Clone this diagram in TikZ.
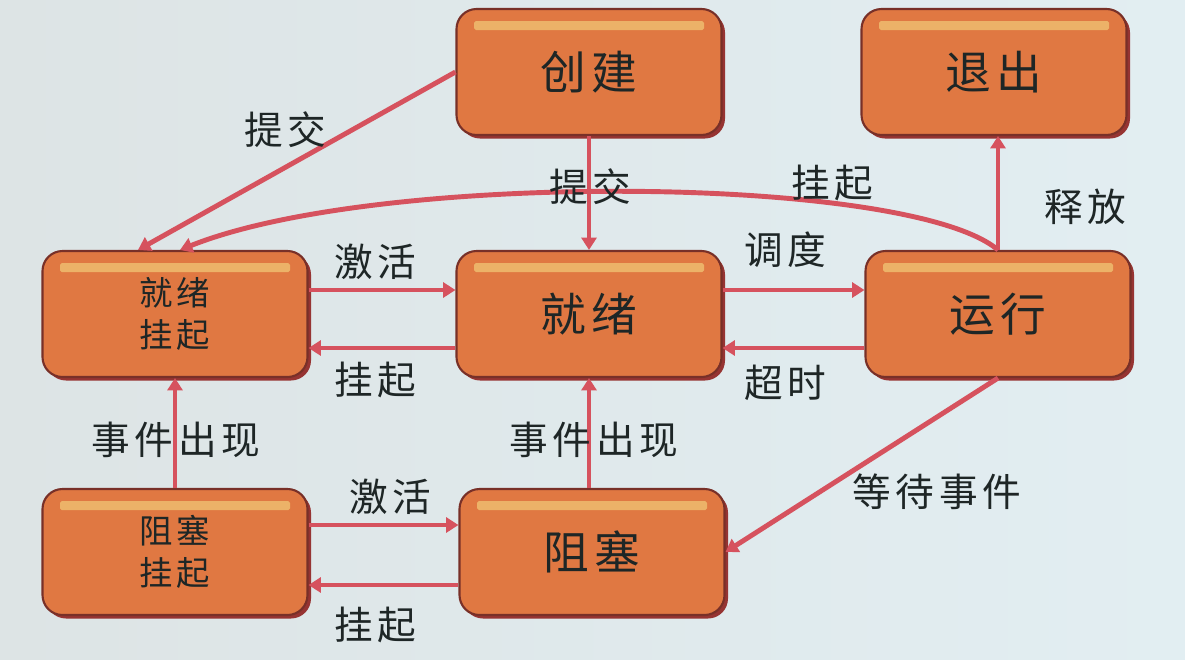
\documentclass[tikz,border=0pt]{standalone}
\usepackage{fontspec}
\usepackage{xcolor}
\usepackage{tikz}
\usetikzlibrary{positioning, arrows.meta, shadows, calc}

\newfontfamily\cjk[LetterSpace=12]{Noto Sans CJK SC}

\definecolor{bgleft}{RGB}{221,228,229}
\definecolor{bgright}{RGB}{226,238,242}
\definecolor{boxfill}{RGB}{224,120,66}
\definecolor{boxline}{RGB}{120,48,40}
\definecolor{boxshade}{RGB}{150,52,50}
\definecolor{hilite}{RGB}{236,178,104}
\definecolor{arrcol}{RGB}{214,82,94}
\definecolor{txt}{RGB}{30,38,38}

\begin{document}
\begin{tikzpicture}[
  state/.style={rectangle, rounded corners=0.4cm, draw=boxline, line width=1.2pt, fill=boxfill,
    minimum width=5.3cm, minimum height=2.52cm, inner sep=0pt, text=txt,
    font=\cjk\fontsize{26}{30}\selectfont,
    drop shadow={shadow xshift=0.07cm, shadow yshift=-0.07cm, fill=boxshade, opacity=1},
    path picture={\fill[hilite, rounded corners=1pt]
      ([xshift=0.35cm, yshift=-0.24cm]path picture bounding box.north west) rectangle
      ([xshift=-0.35cm, yshift=-0.42cm]path picture bounding box.north east);}},
  twoline/.style={align=center, font=\cjk\fontsize{19}{24}\selectfont},
  trans/.style={line width=2.8pt, draw=arrcol, -{Triangle[length=7pt, width=8.5pt]}},
  lbl/.style={font=\cjk\fontsize{22}{26}\selectfont, text=txt, inner sep=0pt}
]
  % 背景
  \useasboundingbox (0,0) rectangle (23.7,-13.18);
  \shade[left color=bgleft, right color=bgright] (0,0) rectangle (23.7,-13.18);

  % 状态
  \node[state] (create) at (11.78,-1.44) {创建};
  \node[state] (exit) at (19.88,-1.44) {退出};
  \node[state, twoline] (readys) at (3.5,-6.28) {就绪\\挂起};
  \node[state] (ready) at (11.78,-6.28) {就绪};
  \node[state] (run) at (19.96,-6.28) {运行};
  \node[state, twoline] (blocks) at (3.5,-11.04) {阻塞\\挂起};
  \node[state] (block) at (11.84,-11.04) {阻塞};

  % 转换
  \draw[trans] (create.west) -- ([xshift=-0.74cm]readys.north);
  \draw[trans] (create.south) -- (ready.north);
  \draw[trans] (run.north) .. controls (18.2,-3.5) and (7.6,-3.4) .. ([xshift=0.1cm]readys.north);
  \draw[trans] (run.north) -- (run.north |- exit.south);
  \draw[trans] ([yshift=0.48cm]readys.east) -- ([yshift=0.48cm]ready.west);
  \draw[trans] ([yshift=-0.68cm]ready.west) -- ([yshift=-0.68cm]readys.east);
  \draw[trans] ([yshift=0.48cm]ready.east) -- ([yshift=0.48cm]run.west);
  \draw[trans] ([yshift=-0.68cm]run.west) -- ([yshift=-0.68cm]ready.east);
  \draw[trans] (blocks.north) -- (readys.south);
  \draw[trans] (ready.south |- block.north) -- (ready.south);
  \draw[trans] ([yshift=0.54cm]blocks.east) -- ([yshift=0.54cm]block.west);
  \draw[trans] ([yshift=-0.66cm]block.west) -- ([yshift=-0.66cm]blocks.east);
  \draw[trans] (run.south) -- (block.east);

  % 标注
  \node[lbl] (l1) at (5.7,-2.6) {提交};
  \node[lbl] (l2) at (11.8,-3.74) {提交};
  \node[lbl] (l3) at (16.64,-3.66) {挂起};
  \node[lbl] (l4) at (21.7,-4.14) {释放};
  \node[lbl] (l5) at (7.5,-5.24) {激活};
  \node[lbl] (l6) at (7.5,-7.6) {挂起};
  \node[lbl] (l7) at (15.7,-5.0) {调度};
  \node[lbl] (l8) at (15.7,-7.66) {超时};
  \node[lbl] (l9) at (3.52,-8.8) {事件出现};
  \node[lbl] (l10) at (11.88,-8.8) {事件出现};
  \node[lbl] (l11) at (7.8,-9.94) {激活};
  \node[lbl] (l12) at (7.5,-12.5) {挂起};
  \node[lbl] (l13) at (18.74,-9.84) {等待事件};
\end{tikzpicture}
\end{document}
